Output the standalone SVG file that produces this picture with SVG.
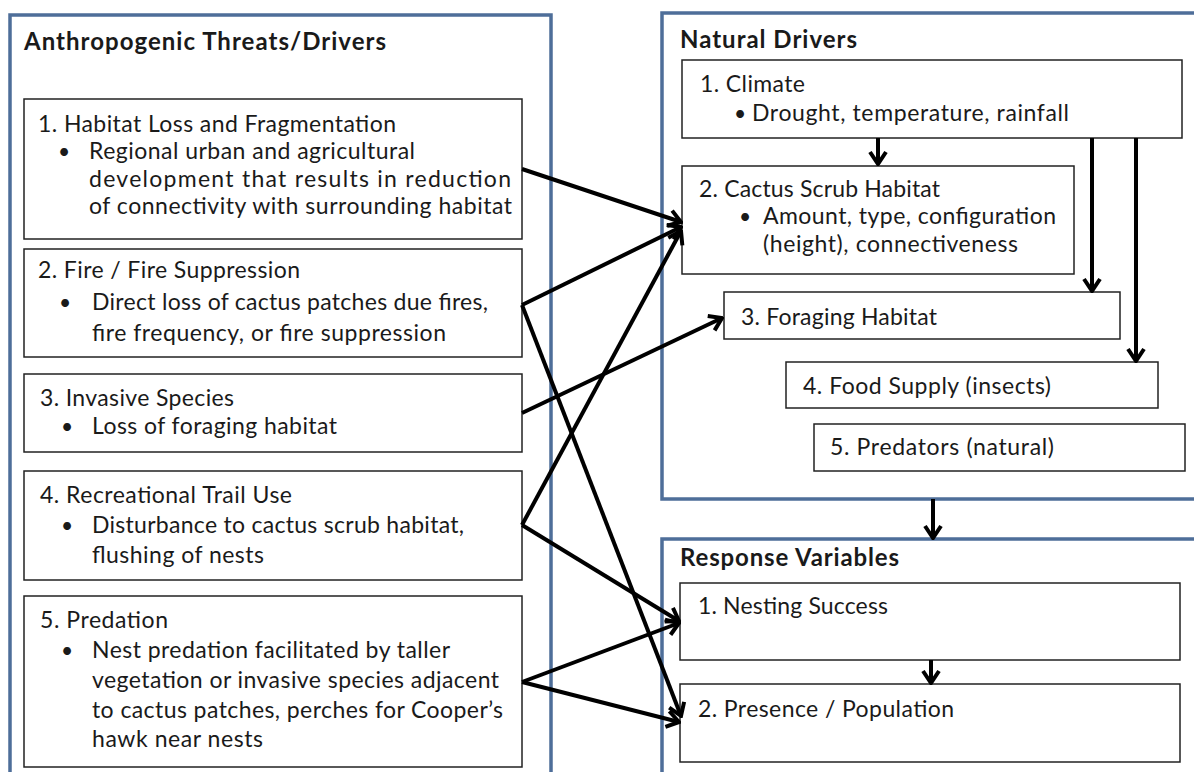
<svg xmlns="http://www.w3.org/2000/svg" width="1194" height="772" viewBox="0 0 1194 772">
<style>
.ct{fill:#fff;stroke:#4e6e99;stroke-width:3.5}
.bx{fill:#fff;stroke:#222;stroke-width:1.5}
text{font-family:Lato,"Open Sans","Liberation Sans",Arial,sans-serif;font-size:23px;fill:#1a1a1a}
.h{font-weight:bold;font-size:24px}
.b{font-size:21px}
.cn path{stroke:#000;stroke-width:4;fill:none;marker-end:url(#ah)}
</style>
<defs>
<marker id="ah" markerUnits="userSpaceOnUse" viewBox="-16 -11 18 22" markerWidth="18" markerHeight="22" refX="0" refY="0" orient="auto">
<path d="M-12,-8 L0,0 L-12,8" stroke="#000" stroke-width="4" fill="none"/>
</marker>
</defs>
<rect width="1194" height="772" fill="#fff"/>

<g id="anthropogenic">
<rect class="ct" x="10" y="15" width="541" height="800"/>
<text class="h" x="24" y="50" textLength="362">Anthropogenic Threats/Drivers</text>
</g>
<g id="natural">
<rect class="ct" x="662" y="13" width="560" height="486"/>
<text class="h" x="680" y="48" textLength="177">Natural Drivers</text>
</g>
<g id="response">
<rect class="ct" x="662" y="539" width="560" height="300"/>
<text class="h" x="680" y="566" textLength="219">Response Variables</text>
</g>

<g id="habitat-loss">
<rect class="bx" x="24" y="99" width="498" height="140"/>
<text x="38" y="132" textLength="358">1. Habitat Loss and Fragmentation</text>
<text class="b" x="58" y="159">•</text>
<text x="89" y="159" textLength="326">Regional urban and agricultural</text>
<text x="89" y="187" textLength="422">development that results in reduction</text>
<text x="89" y="214" textLength="423">of connectivity with surrounding habitat</text>
</g>
<g id="fire">
<rect class="bx" x="24" y="249" width="498" height="108"/>
<text x="38" y="278" textLength="262">2. Fire / Fire Suppression</text>
<text class="b" x="59" y="310">•</text>
<text x="92" y="310" textLength="396">Direct loss of cactus patches due fires,</text>
<text x="92" y="341" textLength="354">fire frequency, or fire suppression</text>
</g>
<g id="invasive">
<rect class="bx" x="24" y="374" width="498" height="78"/>
<text x="40" y="406" textLength="194">3. Invasive Species</text>
<text class="b" x="61" y="434">•</text>
<text x="92" y="434" textLength="245">Loss of foraging habitat</text>
</g>
<g id="trail">
<rect class="bx" x="24" y="471" width="498" height="109"/>
<text x="40" y="503" textLength="252">4. Recreational Trail Use</text>
<text class="b" x="61" y="533">•</text>
<text x="92" y="533" textLength="372">Disturbance to cactus scrub habitat,</text>
<text x="92" y="563" textLength="172">flushing of nests</text>
</g>
<g id="predation">
<rect class="bx" x="24" y="596" width="498" height="171"/>
<text x="40" y="628" textLength="128">5. Predation</text>
<text class="b" x="61" y="658">•</text>
<text x="92" y="658" textLength="358">Nest predation facilitated by taller</text>
<text x="92" y="688" textLength="407">vegetation or invasive species adjacent</text>
<text x="92" y="718" textLength="411">to cactus patches, perches for Cooper’s</text>
<text x="92" y="747" textLength="171">hawk near nests</text>
</g>

<g id="climate">
<rect class="bx" x="682" y="60" width="500" height="78"/>
<text x="700" y="92" textLength="105">1. Climate</text>
<text class="b" x="734" y="121">•</text>
<text x="752" y="121" textLength="317">Drought, temperature, rainfall</text>
</g>
<g id="cactus-scrub">
<rect class="bx" x="682" y="166" width="392" height="108"/>
<text x="699" y="197" textLength="241">2. Cactus Scrub Habitat</text>
<text class="b" x="739" y="224">•</text>
<text x="763" y="224" textLength="293">Amount, type, configuration</text>
<text x="763" y="252" textLength="255">(height), connectiveness</text>
</g>
<g id="foraging">
<rect class="bx" x="724" y="292" width="396" height="47"/>
<text x="741" y="325" textLength="196">3. Foraging Habitat</text>
</g>
<g id="food">
<rect class="bx" x="786" y="362" width="372" height="46"/>
<text x="803" y="394" textLength="248">4. Food Supply (insects)</text>
</g>
<g id="predators">
<rect class="bx" x="814" y="424" width="371" height="47"/>
<text x="830" y="455" textLength="224">5. Predators (natural)</text>
</g>
<g id="nesting">
<rect class="bx" x="680" y="583" width="500" height="77"/>
<text x="698" y="614" textLength="190">1. Nesting Success</text>
</g>
<g id="presence">
<rect class="bx" x="680" y="684" width="500" height="78"/>
<text x="698" y="717" textLength="256">2. Presence / Population</text>
</g>

<g id="connectors" class="cn">
<path d="M522,169 L681,222"/>
<path d="M522,305 L681,227"/>
<path d="M522,305 L681,716"/>
<path d="M522,413 L722,318"/>
<path d="M522,525 L681,231"/>
<path d="M522,525 L679,621"/>
<path d="M522,682 L679,623"/>
<path d="M522,682 L679,722"/>
<path d="M878,138 L878,164"/>
<path d="M1092,138 L1092,291"/>
<path d="M1136,138 L1136,361"/>
<path d="M933,499 L933,538"/>
<path d="M931,660 L931,683"/>
</g>
</svg>
